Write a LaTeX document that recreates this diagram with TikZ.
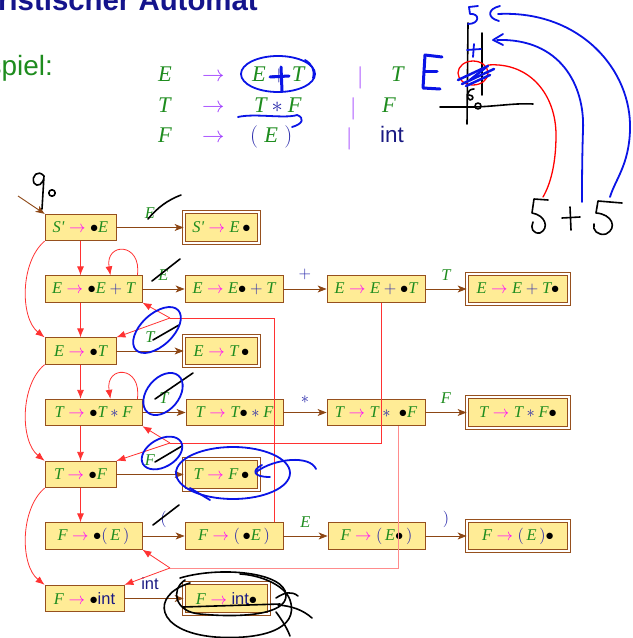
\documentclass[tikz,border=0pt]{standalone}
\usepackage{fix-cm}
\usepackage{fontspec}
\setsansfont{Liberation Sans}
\newfontfamily\tms{Liberation Serif}
\usetikzlibrary{arrows.meta}
\definecolor{itemfill}{RGB}{255,236,150}
\definecolor{itemdraw}{RGB}{150,80,30}
\definecolor{trbrown}{RGB}{140,70,20}
\definecolor{ntgreen}{RGB}{30,140,30}
\definecolor{termblue}{RGB}{40,40,170}
\definecolor{intblue}{RGB}{25,25,130}
\definecolor{arrmag}{RGB}{255,0,255}
\definecolor{grampurple}{RGB}{160,64,255}
\definecolor{epsred}{RGB}{255,50,50}
\definecolor{epslight}{RGB}{255,140,140}
\definecolor{hwblue}{RGB}{10,20,230}
\definecolor{titleblue}{RGB}{20,20,140}
\definecolor{sansgreen}{RGB}{30,140,30}
\newcommand{\boxfont}{\fontsize{16.5}{18}\selectfont}
\newcommand{\lblfont}{\fontsize{16.5}{18}\selectfont}
\newcommand{\gramfont}{\fontsize{22.5}{26}\selectfont}
\newcommand{\G}[1]{\mbox{\color{ntgreen}\tms\itshape #1}}
\newcommand{\ar}{\mathrel{\color{arrmag}\rightarrow}}
\newcommand{\gar}{\mathrel{\color{grampurple}\rightarrow}}
\newcommand{\pt}{\mathord{\bullet}}
\newcommand{\pl}{\mathbin{\color{termblue}+}}
\newcommand{\st}{\mathbin{\color{termblue}*}}
\newcommand{\lp}{\mathopen{\color{termblue}(}}
\newcommand{\rp}{\mathclose{\color{termblue})}}
\newcommand{\intt}{\textcolor{intblue}{\textsf{int}}}
\begin{document}
\begin{tikzpicture}[x=1bp,y=-1bp,
 item/.style={draw=itemdraw, fill=itemfill, line width=0.8bp, minimum height=26.5bp, inner sep=0pt, font=\boxfont},
 final/.style={item, double=white, double distance=2.4bp, minimum height=30.5bp},
 tr/.style={draw=trbrown, line width=0.9bp, -{Stealth[length=9bp,width=7bp,inset=2.5bp]}},
 eps/.style={draw=epsred, line width=0.8bp, -{Latex[length=9bp,width=7bp]}},
 epsl/.style={draw=epsred, line width=0.8bp},
 lbl/.style={font=\lblfont, midway, above=5bp},
 hwk/.style={draw=black, line width=1.6bp, line cap=round, line join=round},
 hwb/.style={draw=hwblue, line width=1.8bp, line cap=round, line join=round},
 hwr/.style={draw=red, line width=1.3bp, line cap=round, line join=round},
 gram/.style={anchor=base west, inner sep=0pt, font=\gramfont},
]
\useasboundingbox (0,0) rectangle (633,638);

% title and example
\node[anchor=base east, inner sep=0pt, font=\fontsize{29.5}{33}\selectfont\sffamily\bfseries, text=titleblue] (title) at (258,11) {Charakteristischer Automat};
\node[anchor=base east, inner sep=0pt, font=\fontsize{28}{32}\selectfont\sffamily, text=sansgreen] (bsp) at (53,76) {Beispiel:};

% grammar
\node[gram] (g1l) at (158,82) {$\G{E}$};
\node[gram] (g1a) at (202,82) {$\gar$};
\node[gram] (g1r) at (252,82) {$\G{E}\pl\G{T}$};
\node[gram] (g1b) at (357,84) {$\color{grampurple}|$};
\node[gram] (g1t) at (391,82) {$\G{T}$};
\node[gram] (g2l) at (158,113) {$\G{T}$};
\node[gram] (g2a) at (202,113) {$\gar$};
\node[gram] (g2r) at (254,113) {$\G{T}\st\G{F}$};
\node[gram] (g2b) at (350,115) {$\color{grampurple}|$};
\node[gram] (g2t) at (382,113) {$\G{F}$};
\node[gram] (g3l) at (158,143) {$\G{F}$};
\node[gram] (g3a) at (202,143) {$\gar$};
\node[gram] (g3r) at (250,143) {$\lp\;\G{E}\;\rp$};
\node[gram] (g3b) at (346,145) {$\color{grampurple}|$};
\node[gram] (g3t) at (380,143) {\intt};

% items
\node[item, minimum width=71bp] (a) at (80.5,227.5) {$\G{S'}\ar\pt\G{E}$};
\node[item, minimum width=97bp] (b) at (93.5,289) {$\G{E}\ar\pt\G{E}\pl\G{T}$};
\node[item, minimum width=71bp] (c) at (80.5,351) {$\G{E}\ar\pt\G{T}$};
\node[item, minimum width=97bp] (d) at (93.5,412.5) {$\G{T}\ar\pt\G{T}\st\G{F}$};
\node[item, minimum width=71bp] (e) at (80.5,474.5) {$\G{T}\ar\pt\G{F}$};
\node[item, minimum width=97bp] (f) at (93.5,536) {$\G{F}\ar\pt\lp\,\G{E}\,\rp$};
\node[item, minimum width=79bp] (g) at (84.5,598.5) {$\G{F}\ar\pt\mathord{\intt}$};

\node[final, minimum width=75bp] (h) at (221.5,227.5) {$\G{S'}\ar\G{E}\,\pt$};
\node[item, minimum width=98bp] (i) at (234,289) {$\G{E}\ar\G{E}\pt\pl\G{T}$};
\node[final, minimum width=75bp] (j) at (221.5,351) {$\G{E}\ar\G{T}\,\pt$};
\node[item, minimum width=97bp] (k) at (234.5,412.5) {$\G{T}\ar\G{T}\pt\st\G{F}$};
\node[final, minimum width=75bp] (l) at (221.5,474.5) {$\G{T}\ar\G{F}\,\pt$};
\node[item, minimum width=98bp] (m) at (234,536) {$\G{F}\ar\lp\,\pt\G{E}\,\rp$};
\node[final, minimum width=85bp] (n) at (226.5,598.5) {$\G{F}\ar\mathord{\intt}\pt$};

\node[item, minimum width=98bp] (o) at (376,289) {$\G{E}\ar\G{E}\pl\pt\G{T}$};
\node[item, minimum width=98bp] (p) at (376,412.5) {$\G{T}\ar\G{T}\st\;\pt\G{F}$};
\node[item, minimum width=97bp] (q) at (376.5,536) {$\G{F}\ar\lp\,\G{E}\pt\,\rp$};

\node[final, minimum width=102bp] (r) at (518,289) {$\G{E}\ar\G{E}\pl\G{T}\pt$};
\node[final, minimum width=102bp] (s) at (518,412.5) {$\G{T}\ar\G{T}\st\G{F}\pt$};
\node[final, minimum width=102bp] (t) at (518,536) {$\G{F}\ar\lp\,\G{E}\,\rp\pt$};

% transitions
\coordinate (init) at (18,196);
\draw[tr] (init) -- (a.north west);
\draw[tr] (a) -- node[lbl]{$\G{E}$} (h);
\draw[tr] (b) -- node[lbl]{$\G{E}$} (i);
\draw[tr] (i) -- node[lbl]{$\color{termblue}+$} (o);
\draw[tr] (o) -- node[lbl]{$\G{T}$} (r);
\draw[tr] (c) -- node[lbl]{$\G{T}$} (j);
\draw[tr] (d) -- node[lbl]{$\G{T}$} (k);
\draw[tr] (k) -- node[lbl]{$\color{termblue}*$} (p);
\draw[tr] (p) -- node[lbl]{$\G{F}$} (s);
\draw[tr] (e) -- node[lbl]{$\G{F}$} (l);
\draw[tr] (f) -- node[lbl]{$\color{termblue}($} (m);
\draw[tr] (m) -- node[lbl]{$\G{E}$} (q);
\draw[tr] (q) -- node[lbl]{$\color{termblue})$} (t);
\draw[tr] (g) -- node[lbl, xshift=-4bp]{\intt} (n);

% epsilon transitions
\draw[eps] (a.south) -- (a.south |- b.north);
\draw[eps] (a.south |- b.south) -- (c.north);
\draw[eps] (c.south) -- (c.south |- d.north);
\draw[eps] (c.south |- d.south) -- (e.north);
\draw[eps] (e.south) -- (e.south |- f.north);
\draw[eps] (a.south west) .. controls (20,262) and (20,318) .. (c.north west);
\draw[eps] (c.south west) .. controls (20,385) and (20,441) .. (e.north west);
\draw[eps] (e.south west) .. controls (20,509) and (20,565) .. (g.north west);
\draw[eps] ([xshift=-5bp]b.north east) .. controls (142,242) and (105,242) .. ([xshift=-32bp]b.north east);
\draw[eps] ([xshift=-5bp]d.north east) .. controls (142,365) and (105,365) .. ([xshift=-32bp]d.north east);

% reduce / goto lines
\coordinate (j1) at (170,318); \coordinate (c1) at (274,318);
\draw[epsl] (m.north -| c1) -- (c1) -- (j1);
\draw[eps] (j1) -- (b.south east);
\draw[eps] (j1) -- (c.north east);
\coordinate (j2) at (170,443); \coordinate (c2) at (381,443);
\draw[epsl] (o.south -| c2) -- (c2) -- (j2);
\draw[eps] (j2) -- (d.south east);
\draw[eps] (j2) -- (e.north east);
\coordinate (j3) at (170,568); \coordinate (c3) at (398,568);
\draw[epsl, draw=epslight] (p.south -| c3) -- (c3) -- (j3);
\draw[eps] (j3) -- (f.south east);
\draw[eps] (j3) -- (g.north east);

% ---- handwriting ----
% q0
\draw[hwk] (44,176) .. controls (38,169) and (31,176) .. (34,183) .. controls (37,188) and (44,184) .. (44,176) -- (42,209);
\draw[hwk] (52,193) circle (3.2);
% strike-throughs
\draw[hwk] (148,219) .. controls (158,207) and (168,200) .. (181,195);
\draw[hwk] (152,281) -- (180,259);
\draw[hwk] (153,340) -- (179,325);
\draw[hwk] (155,399) -- (193,373);
\draw[hwk] (155,462) -- (182,446);
\draw[hwk] (153,525) -- (179,505);
% blue ellipses on labels
\draw[hwb, rotate around={43:(157,330)}] (157,330) ellipse [x radius=29, y radius=16];
\draw[hwb, rotate around={50:(163,394)}] (163,394) ellipse [x radius=24, y radius=16];
\draw[hwb, rotate around={30:(162,453)}] (162,453) ellipse [x radius=22, y radius=14];
% blue ellipse around T -> F.
\draw[hwb] (233,473) ellipse [x radius=57, y radius=26];
\draw[hwb] (190,488) -- (210,500);
\draw[hwb] (316,469) .. controls (310,455) and (275,458) .. (256,472);
\draw[hwb] (262,465) .. controls (252,470) and (252,477) .. (270,477);
% black scribble around F -> int.
\draw[hwk] (180,578) .. controls (220,566) and (285,572) .. (286,595) .. controls (287,615) and (240,618) .. (200,614) .. controls (175,612) and (170,590) .. (185,580);
\draw[hwk] (183,607) -- (280,604);
\draw[hwk] (190,583) .. controls (150,595) and (155,632) .. (215,637) .. controls (260,640) and (300,630) .. (290,600) .. controls (285,585) and (260,575) .. (240,574);
\draw[hwk] (276,598) .. controls (285,592) and (292,591) .. (298,596);
\draw[hwk] (278,605) .. controls (292,606) and (303,610) .. (312,618);
\draw[hwk] (276,612) .. controls (282,620) and (287,628) .. (290,636);
% grammar annotations
\draw[hwb] (278,74) ellipse [x radius=37, y radius=18];
\draw[hwb] (305,60) .. controls (312,64) and (315,70) .. (313,78);
\draw[hwb, line width=3bp] (270,77) -- (289,76);
\draw[hwb, line width=3bp] (281,67) -- (282,91);
\draw[hwb] (238,117) .. controls (255,113) and (285,119) .. (297,115) .. controls (305,118) and (303,124) .. (292,127);
% stack sketch top right
\draw[hwk] (468,23) -- (467,124);
\draw[hwk] (482,33) -- (482,95);
\draw[hwk] (440,107) -- (475,107) .. controls (500,106) and (515,103) .. (533,104);
\draw[hwk] (474,89) .. controls (466,89) and (466,99) .. (470,100) .. controls (474,100) and (474,95) .. (469,95);
\draw[hwk] (478,106) circle (3);
\draw[hwb] (478,6) -- (469,7) -- (470,14) .. controls (480,13) and (480,24) .. (468,24);
\draw[hwb] (500,6) .. controls (487,9) and (487,18) .. (499,21);
\draw[hwb] (498,14) .. controls (580,10) and (632,70) .. (630,130) .. controls (629,165) and (615,180) .. (610,197);
\draw[hwb] (503,34) -- (493,40) -- (503,45);
\draw[hwb] (497,40) .. controls (560,38) and (585,85) .. (583,130) .. controls (582,160) and (582,185) .. (582,202);
\draw[hwb] (467,50) -- (481,49);
\draw[hwb] (474,44) -- (473,57);
\draw[hwr] (473,73) ellipse [x radius=15, y radius=12];
\draw[hwr] (488,65) .. controls (530,62) and (556,95) .. (556,135) .. controls (556,165) and (550,185) .. (543,197);
\draw[hwb, line width=3bp] (442,57) -- (425,55) -- (423,88) -- (440,89);
\draw[hwb, line width=3bp] (424,72) -- (437,72);
\draw[hwb, line width=2.5bp] (458,80) -- (488,66);
\draw[hwb, line width=2.5bp] (462,84) -- (494,69);
\draw[hwb, line width=2.5bp] (466,86) -- (490,75);
\draw[hwb, line width=2.5bp] (470,80) -- (485,68);
% 5 + 5
\draw[hwk] (548,200) -- (534,199) -- (532,213) .. controls (545,215) and (550,228) .. (540,233) .. controls (533,234) and (530,228) .. (533,222);
\draw[hwk] (562,218) -- (580,217);
\draw[hwk] (570,207) -- (571,230);
\draw[hwk] (622,203) -- (598,201) -- (596,213) .. controls (612,214) and (618,228) .. (606,234) .. controls (598,236) and (592,230) .. (594,224);
\end{tikzpicture}
\end{document}
